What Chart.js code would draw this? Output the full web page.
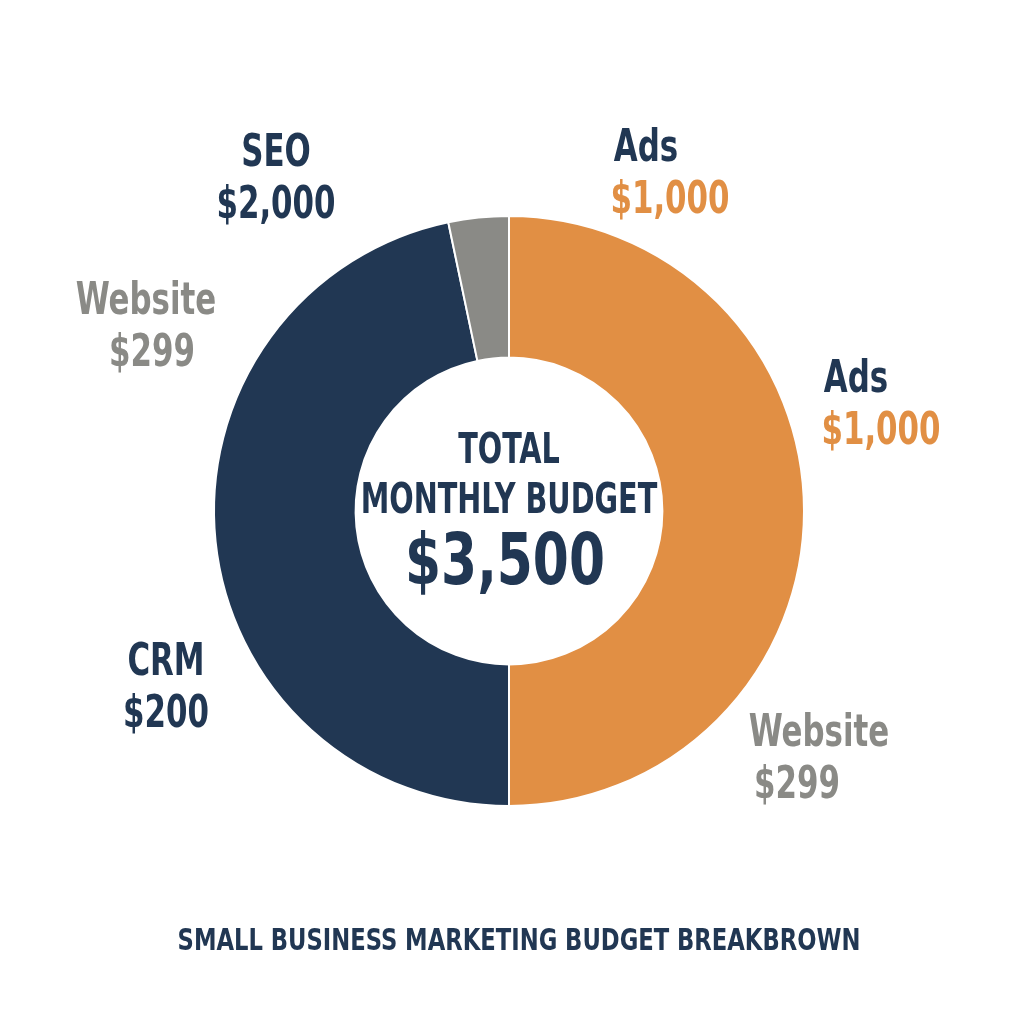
<!DOCTYPE html>
<html>
<head>
<meta charset="utf-8">
<script src="https://cdn.jsdelivr.net/npm/chart.js@4"></script>
<style>
  html, body { margin: 0; padding: 0; background: #fff; }
  canvas { display: block; }
</style>
</head>
<body>
<canvas id="budgetChart" width="1024" height="1024"></canvas>
<script>
// slice shares as drawn in the picture
const sliceNames  = ['Ads', 'SEO', 'Website'];
const sliceValues = [50, 46.7, 3.3];
const sliceColors = ['#E18F44', '#213753', '#8A8A86'];

// outside labels: name, amount
const labelNames   = ['SEO', 'Ads', 'Website', 'Ads', 'CRM', 'Website'];
const labelAmounts = ['$2,000', '$1,000', '$299', '$1,000', '$200', '$299'];

const centerLines = ['TOTAL', 'MONTHLY BUDGET', '$3,500'];
const titleText = 'SMALL BUSINESS MARKETING BUDGET BREAKBROWN';

const NAVY = '#213753', ORANGE = '#E18F44', GRAY = '#8A8A86';
const FONT = '"DejaVu Sans Condensed", sans-serif';

// label placement / colours (style only)
const labelStyle = [
  { x: 276, y: 155, nameColor: NAVY, amtColor: NAVY, ax: 276 },
  { x: 646, y: 150, nameColor: NAVY, amtColor: ORANGE, ax: 670 },
  { x: 146, y: 303, nameColor: GRAY, amtColor: GRAY, ax: 152 },
  { x: 856, y: 381, nameColor: NAVY, amtColor: ORANGE, ax: 881 },
  { x: 166, y: 664, nameColor: NAVY, amtColor: NAVY, ax: 166 },
  { x: 819, y: 735, nameColor: GRAY, amtColor: GRAY, ax: 797 }
];

// narrow text: squeeze horizontally around x
function narrowText(ctx, text, x, y, sx) {
  ctx.save();
  ctx.translate(x, y);
  ctx.scale(sx, 1);
  ctx.fillText(text, 0, 0);
  ctx.restore();
}

const textPlugin = {
  id: 'texts',
  afterDraw(chart) {
    const ctx = chart.ctx;
    ctx.save();
    ctx.textAlign = 'center';
    ctx.textBaseline = 'middle';
    ctx.font = 'bold 44px ' + FONT;
    labelNames.forEach((n, i) => {
      const s = labelStyle[i];
      ctx.fillStyle = s.nameColor;
      narrowText(ctx, n, s.x, s.y, 0.78);
      ctx.fillStyle = s.amtColor;
      narrowText(ctx, labelAmounts[i], s.ax, s.y + 52, 0.78);
    });
    const c = chart.getDatasetMeta(0).data[0];
    ctx.fillStyle = NAVY;
    ctx.font = 'bold 42px ' + FONT;
    narrowText(ctx, centerLines[0], c.x, 452, 0.76);
    narrowText(ctx, centerLines[1], c.x, 502, 0.76);
    ctx.font = 'bold 72px ' + FONT;
    narrowText(ctx, centerLines[2], c.x - 4, 565, 0.8);
    ctx.font = 'bold 30px ' + FONT;
    narrowText(ctx, titleText, 519, 942, 0.84);
    ctx.restore();
  }
};

new Chart(document.getElementById('budgetChart'), {
  type: 'doughnut',
  data: {
    labels: sliceNames,
    datasets: [{
      data: sliceValues,
      backgroundColor: sliceColors,
      borderColor: '#ffffff',
      borderWidth: 2
    }]
  },
  options: {
    responsive: false,
    animation: false,
    cutout: '52%',
    layout: { padding: { left: 213, right: 219, top: 215, bottom: 217 } },
    plugins: { legend: { display: false }, tooltip: { enabled: false } }
  },
  plugins: [textPlugin]
});
</script>
</body>
</html>
